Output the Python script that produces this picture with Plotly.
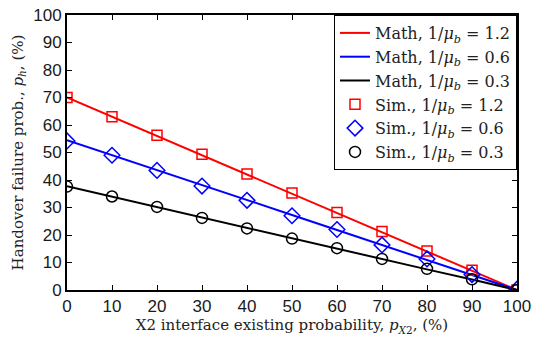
import plotly.graph_objects as go

x = [0, 10, 20, 30, 40, 50, 60, 70, 80, 90, 100]
math_12 = [70, 63, 56, 49, 42, 35, 28, 21, 14, 7, 0]
math_06 = [54.5, 49.1, 43.6, 38.2, 32.7, 27.3, 21.8, 16.4, 10.9, 5.5, 0]
math_03 = [37.7, 33.9, 30.2, 26.4, 22.6, 18.9, 15.1, 11.3, 7.5, 3.8, 0]
sim_12 = [70, 63, 56.3, 49.4, 42.2, 35.3, 28.2, 21.3, 14.2, 7.2, 0]
sim_06 = [54.2, 49, 43.5, 37.8, 32.6, 27, 22, 16.4, 11.3, 5.6, 0.3]
sim_03 = [37.6, 34, 30.2, 26.2, 22.4, 18.7, 15.2, 11.3, 7.7, 3.9, 0]

serif = "DejaVu Serif"
lab = lambda k, v: f"{k}, 1/<i>μ</i><sub><i>b</i></sub> = {v}"

fig = go.Figure()
fig.add_trace(go.Scatter(x=x, y=math_12, mode="lines", line=dict(color="#ff0000", width=2), name=lab("Math", "1.2")))
fig.add_trace(go.Scatter(x=x, y=math_06, mode="lines", line=dict(color="#0000ff", width=2), name=lab("Math", "0.6")))
fig.add_trace(go.Scatter(x=x, y=math_03, mode="lines", line=dict(color="#000000", width=2), name=lab("Math", "0.3")))
fig.add_trace(go.Scatter(x=x, y=sim_12, mode="markers", name=lab("Sim.", "1.2"),
                         marker=dict(symbol="square-open", size=10, color="#ff0000", line=dict(width=1.5, color="#ff0000"))))
fig.add_trace(go.Scatter(x=x, y=sim_06, mode="markers", name=lab("Sim.", "0.6"),
                         marker=dict(symbol="diamond-open", size=12, color="#0000ff", line=dict(width=1.5, color="#0000ff"))))
fig.add_trace(go.Scatter(x=x, y=sim_03, mode="markers", name=lab("Sim.", "0.3"),
                         marker=dict(symbol="circle-open", size=11, color="#000000", line=dict(width=1.5, color="#000000"))))

axis_common = dict(showline=True, linecolor="black", linewidth=2, mirror="allticks",
                   ticks="inside", ticklen=5, tickwidth=1, tickcolor="black",
                   showgrid=False, zeroline=False, automargin=False,
                   tickfont=dict(family="Liberation Sans, Arial, sans-serif", size=17, color="#1a1a1a"))

fig.update_layout(
    width=533, height=337,
    margin=dict(l=67, r=16, t=15, b=47),
    paper_bgcolor="white", plot_bgcolor="white",
    xaxis=dict(range=[0, 100], tickvals=x,
               title=dict(text="X2 interface existing probability, <i>p</i><sub><i>X</i>2</sub>, (%)",
                          font=dict(family=serif, size=15, color="#222"), standoff=2),
               **axis_common),
    yaxis=dict(range=[0, 100], dtick=10,
               title=dict(text="Handover failure prob., <i>p</i><sub><i>h</i></sub>, (%)",
                          font=dict(family=serif, size=15, color="#222"), standoff=6),
               **axis_common),
    legend=dict(x=1, y=1, xanchor="right", yanchor="top", bgcolor="white",
                bordercolor="black", borderwidth=1,
                font=dict(family=serif, size=16, color="#222"),
                tracegroupgap=0, itemwidth=30),
    showlegend=True,
)

fig.write_html("out.html")
